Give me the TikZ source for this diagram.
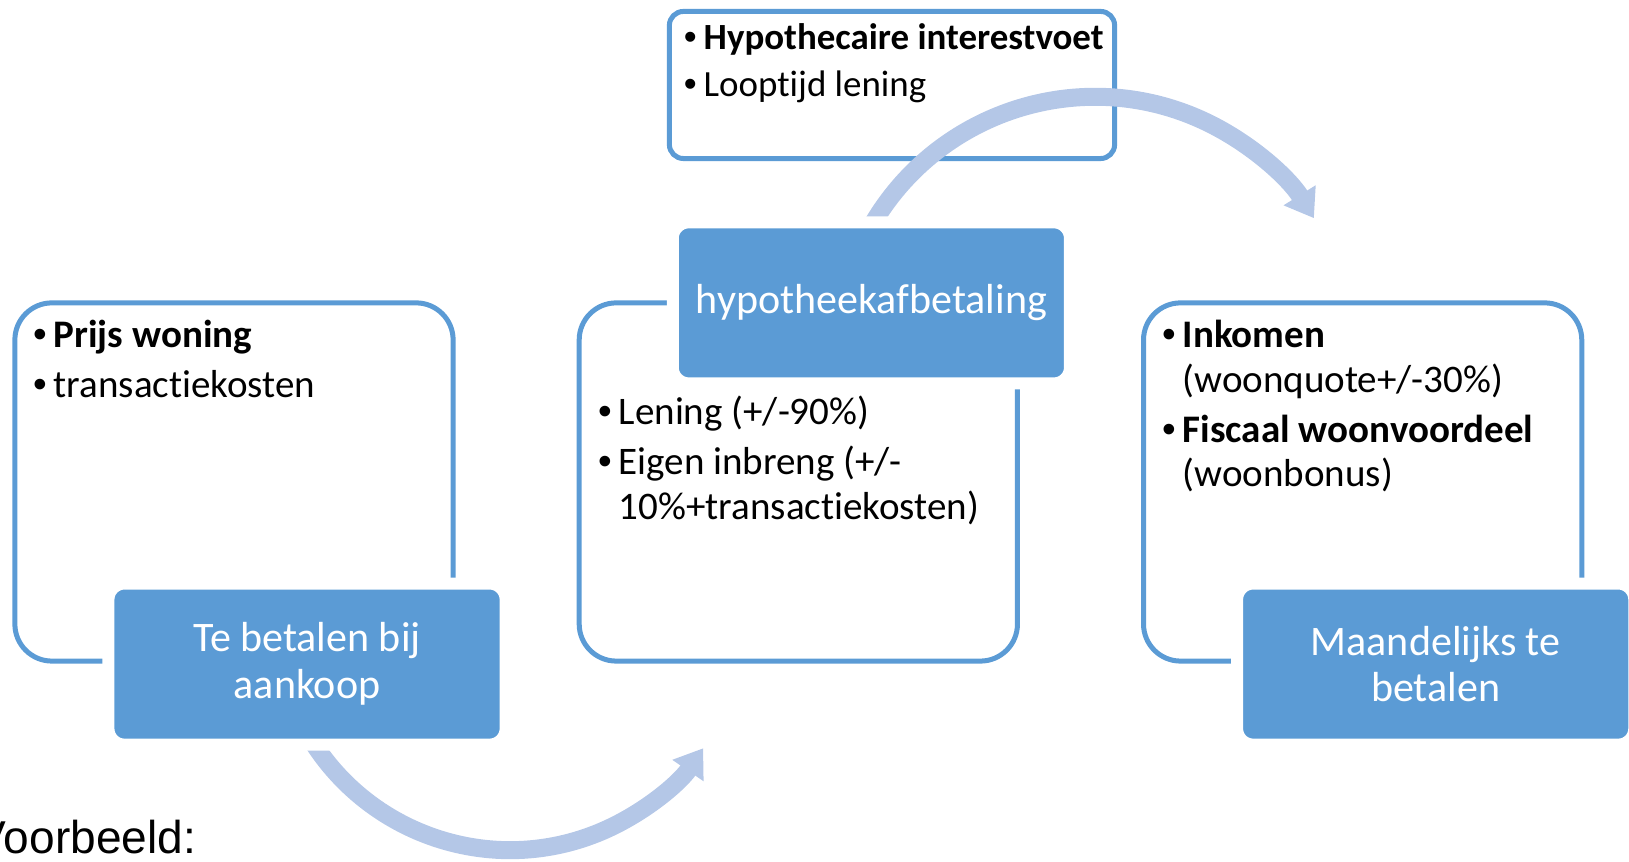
\documentclass[tikz,border=0pt]{standalone}
\usepackage{fontspec}
\setmainfont{Carlito}[Ligatures=NoCommon]
\newfontfamily\notefont{Liberation Sans}
\usetikzlibrary{positioning, arrows.meta}

\definecolor{boxblue}{HTML}{5B9BD5}
\definecolor{flowblue}{HTML}{B4C7E7}

\newcommand{\itemfont}{\fontsize{11.1pt}{13pt}\selectfont}
\newcommand{\topfont}{\fontsize{10.5pt}{12pt}\selectfont}
\newcommand{\titlefont}{\fontsize{11.95pt}{13.3pt}\selectfont}
\newcommand{\bul}{\llap{{\notefont\textbullet}\hspace{0.07cm}}}

\tikzset{
  frame/.style={draw=boxblue, line width=0.05cm, rounded corners=0.37cm,
    minimum width=4.38cm, minimum height=3.58cm, outer sep=0pt},
  title/.style={fill=boxblue, draw=white, line width=0.12cm, rounded corners=0.16cm,
    minimum width=3.97cm, minimum height=1.61cm, inner sep=0pt, text=white,
    align=center, font=\titlefont},
  entry/.style={anchor=base west, inner sep=0pt, font=\itemfont},
  flow/.style={draw=flowblue, line width=0.18cm,
    -{Triangle[width=0.36cm, length=0.27cm]}}
}

\begin{document}
\begin{tikzpicture}[x=0.01cm, y=-0.01cm, node distance=1.26cm]
  \useasboundingbox (0,0) rectangle (1629,862);

  % outline boxes
  \node[frame] (buy) at (234,482) {};
  \node[frame] (loan) [right=of buy] {};
  \node[frame] (month) [right=of loan] {};
  \node[frame, minimum width=4.45cm, minimum height=1.47cm,
    rounded corners=0.14cm] (rate) at (892,85) {};

  % arrows, tails start under the title boxes
  \coordinate (hub1) at (510,616);
  \coordinate (hub2) at (1095,355);
  \draw[flow] ([shift={(205:2.34cm)}]hub1)
    arc[start angle=205, end angle=325.6, radius=2.34cm];
  \draw[flow] ([shift={(153:2.58cm)}]hub2)
    arc[start angle=153, end angle=32, radius=2.58cm];

  % titles
  \node[title] (buyt) at ([xshift=0.73cm, yshift=-0.03cm]buy.south) {Te betalen bij\\aankoop};
  \node[title] (loant) at ([xshift=0.73cm]loan.north) {hypotheekafbetaling};
  \node[title] (montht) at ([xshift=0.73cm, yshift=-0.03cm]month.south) {Maandelijks te\\betalen};

  % texts
  \node[entry] (buy1) at (53,348) {\bul\textbf{Prijs woning}};
  \node[entry] (buy2) at (53,398) {\bul transactiekosten};

  \node[entry] (loan1) at (618,425) {\bul Lening (+/-90\%)};
  \node[entry] (loan2) at (618,475) {\bul Eigen inbreng (+/-};
  \node[entry] (loan3) at (618,520) {10\%+transactiekosten)};

  \node[entry] (month1) at (1182,348) {\bul\textbf{Inkomen}};
  \node[entry] (month2) at (1182,393) {(woonquote+/-30\%)};
  \node[entry] (month3) at (1182,443) {\bul\textbf{Fiscaal woonvoordeel}};
  \node[entry] (month4) at (1182,487) {(woonbonus)};

  \node[entry, font=\topfont] (rate1) at (703,50) {\bul\textbf{Hypothecaire interestvoet}};
  \node[entry, font=\topfont] (rate2) at (703,97) {\bul Looptijd lening};

  \node[anchor=base west, inner sep=0pt,
    font=\notefont\fontsize{13.1pt}{15pt}\selectfont] (note) at (-25,854) {Voorbeeld:};
\end{tikzpicture}
\end{document}
